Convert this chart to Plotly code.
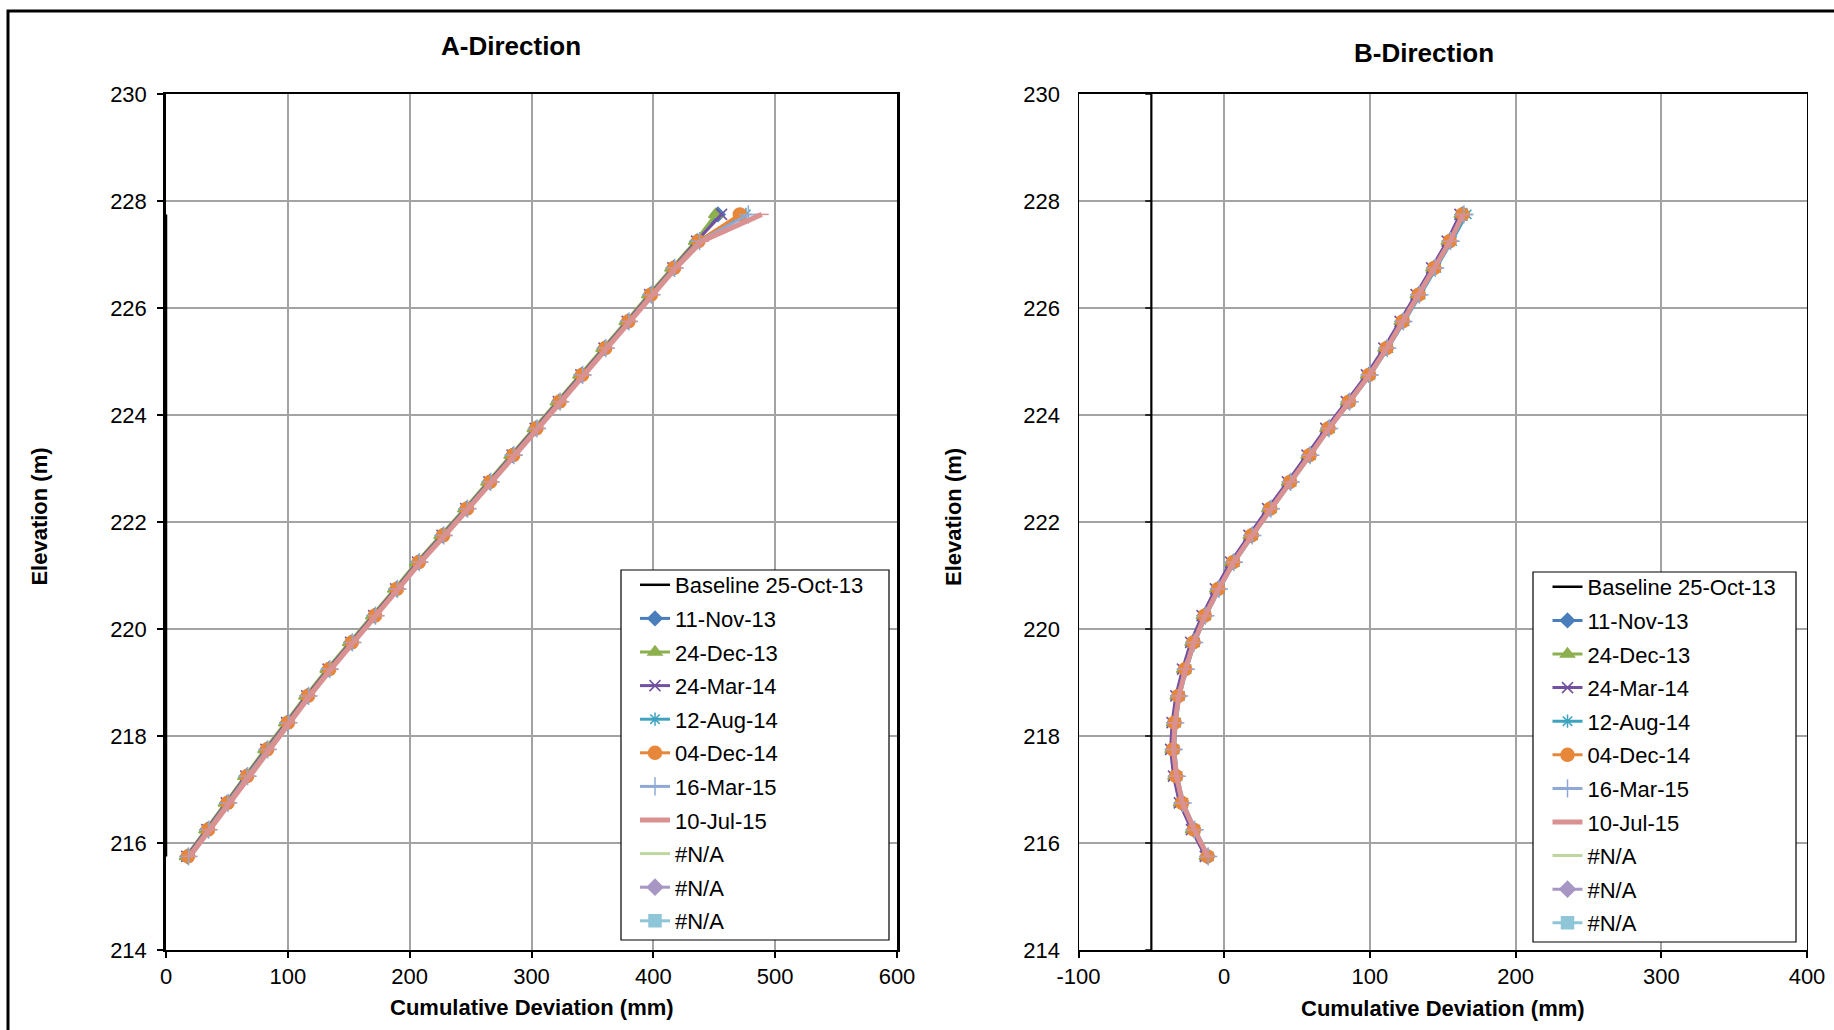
import plotly.graph_objects as go

# ---------------- data ----------------
ELEVATION = [215.75, 216.25, 216.75, 217.25, 217.75, 218.25, 218.75, 219.25, 219.75,
             220.25, 220.75, 221.25, 221.75, 222.25, 222.75, 223.25, 223.75, 224.25,
             224.75, 225.25, 225.75, 226.25, 226.75, 227.25, 227.75]

SERIES_NAMES = ["Baseline 25-Oct-13", "11-Nov-13", "24-Dec-13", "24-Mar-14", "12-Aug-14",
                "04-Dec-14", "16-Mar-15", "10-Jul-15", "#N/A", "#N/A", "#N/A"]

A_BASELINE = [0.0] * 25
A_11NOV13 = [17.5, 33.8, 50.0, 66.0, 82.6, 99.5, 116.0, 133.5, 152.0, 171.0, 189.0, 207.0, 227.0,
             246.5, 265.5, 284.5, 303.5, 322.5, 341.0, 360.0, 379.0, 397.5, 416.5, 436.0, 453.0]
A_24DEC13 = [16.5, 32.5, 48.5, 64.5, 81.0, 98.0, 114.5, 132.0, 150.5, 169.5, 187.5, 205.5, 225.5,
             245.0, 264.0, 283.0, 302.0, 321.0, 339.5, 358.5, 377.5, 396.0, 415.0, 434.5, 451.0]
A_24MAR14 = [17.0, 33.5, 49.5, 65.5, 82.0, 99.0, 115.5, 133.0, 151.5, 170.5, 188.5, 206.5, 226.5,
             246.0, 265.0, 284.0, 303.0, 322.0, 340.5, 359.5, 378.5, 397.0, 416.0, 435.5, 456.0]
A_12AUG14 = [18.0, 34.0, 50.5, 66.5, 83.0, 100.0, 116.5, 134.0, 152.5, 171.5, 189.5, 207.5, 227.5,
             247.0, 266.0, 285.0, 304.0, 323.0, 341.5, 360.5, 379.5, 398.0, 417.0, 437.0, 476.0]
A_04DEC14 = [18.0, 34.5, 50.5, 66.5, 83.0, 100.0, 116.5, 134.0, 152.5, 171.5, 189.5, 207.5, 227.5,
             247.0, 266.0, 285.0, 304.0, 323.0, 341.5, 360.5, 379.5, 398.0, 417.0, 437.0, 471.0]
A_16MAR15 = [18.5, 35.0, 51.0, 67.0, 83.5, 100.5, 117.0, 134.5, 153.0, 172.0, 190.0, 208.0, 228.0,
             247.5, 266.5, 285.5, 304.5, 323.5, 342.0, 361.0, 380.0, 398.5, 417.5, 438.0, 478.0]
A_10JUL15 = [19.5, 36.0, 52.0, 68.0, 84.5, 101.5, 118.0, 135.5, 154.0, 173.0, 191.0, 209.0, 229.0,
             248.5, 267.5, 286.5, 305.5, 324.5, 343.0, 362.0, 381.0, 399.5, 418.5, 440.0, 489.0]

B_BASELINE = [None]
B_11NOV13 = [-11.7, -21.0, -29.2, -33.2, -35.3, -34.3, -31.6, -27.0, -21.3, -13.6, -4.3, 6.0, 18.6,
             31.4, 45.0, 58.4, 71.3, 85.4, 99.2, 111.2, 122.3, 133.3, 144.0, 154.6, 163.4]
B_24DEC13 = [-12.5, -22.0, -30.2, -34.0, -36.0, -35.0, -32.5, -28.0, -22.3, -14.5, -5.3, 5.0, 17.6,
             30.4, 44.0, 57.4, 70.3, 84.4, 98.2, 110.2, 121.3, 132.3, 143.0, 153.6, 162.4]
B_24MAR14 = [-13.0, -22.5, -30.8, -34.8, -36.8, -35.8, -33.2, -28.6, -23.0, -15.2, -6.0, 4.4, 17.0,
             29.8, 43.4, 56.8, 69.7, 83.8, 97.6, 109.6, 120.7, 131.7, 142.4, 153.0, 161.8]
B_12AUG14 = [-10.5, -19.8, -28.0, -32.0, -34.0, -33.0, -30.4, -25.8, -20.0, -12.4, -3.0, 7.3, 19.9,
             32.7, 46.3, 59.7, 72.6, 86.7, 100.5, 112.6, 123.8, 134.8, 145.6, 156.4, 166.5]
B_04DEC14 = [-11.5, -20.8, -29.0, -33.0, -35.1, -34.1, -31.4, -26.8, -21.1, -13.4, -4.1, 6.2, 18.8,
             31.6, 45.2, 58.6, 71.5, 85.6, 99.4, 111.4, 122.5, 133.5, 144.2, 154.8, 163.6]
B_16MAR15 = [-11.0, -20.3, -28.5, -32.5, -34.6, -33.6, -30.9, -26.3, -20.6, -12.9, -3.6, 6.7, 19.3,
             32.1, 45.7, 59.1, 72.0, 86.1, 99.9, 111.9, 123.0, 134.0, 144.8, 155.4, 164.5]
B_10JUL15 = [-11.2, -20.5, -28.7, -32.7, -34.8, -33.8, -31.1, -26.5, -20.8, -13.1, -3.8, 6.5, 19.1,
             31.9, 45.5, 58.9, 71.8, 85.9, 99.7, 111.7, 122.8, 133.8, 144.5, 155.1, 164.0]

NA_SERIES = [None]   # "#N/A" series hold no plottable values

Y_TICKS = [214, 216, 218, 220, 222, 224, 226, 228, 230]
A_X_TICKS = [0, 100, 200, 300, 400, 500, 600]
A_X_TICK_TEXT = ["0", "100", "200", "300", "400", "500", "600"]
B_X_TICKS = [-100, 0, 100, 200, 300, 400]
B_X_TICK_TEXT = ["-100", "0", "100", "200", "300", "400"]
B_AXIS_CROSS = -50

# ---------------- styles ----------------
STYLES = [
    dict(color="#000000", symbol=None, size=0, width=2.5),
    dict(color="#4A7EBB", symbol="diamond", size=11, width=3),
    dict(color="#8CB04E", symbol="triangle-up", size=12, width=3),
    dict(color="#7151A0", symbol="x-thin-open", size=11, width=3),
    dict(color="#3FA3BF", symbol="asterisk-open", size=11, width=3),
    dict(color="#E6873A", symbol="circle", size=13, width=3),
    dict(color="#8FA9D6", symbol="cross-thin-open", size=13, width=3),
    dict(color="#D99291", symbol="line-ew-open", size=10, width=5),
    dict(color="#BFD69E", symbol=None, size=0, width=3),
    dict(color="#A896C4", symbol="diamond", size=12, width=3),
    dict(color="#8EC6D8", symbol="square", size=12, width=3),
]

A_DATA = [A_BASELINE, A_11NOV13, A_24DEC13, A_24MAR14, A_12AUG14, A_04DEC14, A_16MAR15,
          A_10JUL15, NA_SERIES, NA_SERIES, NA_SERIES]
B_DATA = [B_BASELINE, B_11NOV13, B_24DEC13, B_24MAR14, B_12AUG14, B_04DEC14, B_16MAR15,
          B_10JUL15, NA_SERIES, NA_SERIES, NA_SERIES]

FONT = "Liberation Sans, Arial, sans-serif"
W, H = 1834, 1030

fig = go.Figure()


def add_traces(data, xa, ya, legend, prefix):
    for i, (name, xs, st) in enumerate(zip(SERIES_NAMES, data, STYLES)):
        ys = ELEVATION[:len(xs)]
        mode = "lines+markers" if st["symbol"] else "lines"
        marker = dict(symbol=st["symbol"], size=st["size"], color=st["color"],
                      line=dict(color=st["color"], width=1.5)) if st["symbol"] else None
        fig.add_trace(go.Scatter(
            x=xs, y=ys, name=name, mode=mode, xaxis=xa, yaxis=ya, legend=legend,
            legendgroup=f"{prefix}{i}",
            line=dict(color=st["color"], width=st["width"]),
            marker=marker, showlegend=True))


add_traces(A_DATA, "x", "y", "legend", "A")
add_traces(B_DATA, "x2", "y2", "legend2", "B")

axis_common = dict(showgrid=True, gridcolor="#A3A3A3", gridwidth=2, zeroline=False,
                   showline=True, linecolor="#000000", mirror=True,
                   tickfont=dict(family=FONT, size=22, color="#000000"),
                   automargin=False)

ydom = [80 / H, 1 - 94 / H]
legend_common = dict(xanchor="left", yanchor="top", bgcolor="rgba(0,0,0,0)",
                     borderwidth=0, font=dict(family=FONT, size=22, color="#000"),
                     tracegroupgap=2, itemclick=False)
fig.update_layout(
    width=W, height=H,
    margin=dict(l=0, r=0, t=0, b=0),
    paper_bgcolor="white", plot_bgcolor="white",
    font=dict(family=FONT, size=22, color="#000000"),
    showlegend=True,
    xaxis=dict(domain=[166 / W, 897 / W], range=[0, 600], tickvals=A_X_TICKS,
               ticktext=A_X_TICK_TEXT,
               ticks="outside", ticklen=6, tickwidth=1.5, tickcolor="#000", linewidth=2,
               anchor="y", **axis_common),
    yaxis=dict(domain=ydom, range=[214, 230], tickvals=Y_TICKS, ticks="outside", ticklen=6,
               tickwidth=1.5, tickcolor="#000", linewidth=2.5, anchor="x",
               ticklabelstandoff=6, **axis_common),
    xaxis2=dict(domain=[1078.5 / W, 1807 / W], range=[-100, 400], tickvals=B_X_TICKS,
                ticktext=B_X_TICK_TEXT,
                ticks="outside", ticklen=6, tickwidth=1.5, tickcolor="#000", linewidth=1.8,
                anchor="y2", **axis_common),
    yaxis2=dict(domain=ydom, range=[214, 230], tickvals=Y_TICKS, ticks="", linewidth=1.2,
                anchor="x2", ticklabelstandoff=13, **axis_common),
    legend=dict(x=635 / W, y=1 - 564 / H, **legend_common),
    legend2=dict(x=1547.5 / W, y=1 - 566 / H, **legend_common),
)

shapes = []
# legend boxes (white, bordered)
shapes.append(dict(type="rect", xref="paper", yref="paper", x0=621 / W, x1=889 / W,
                   y0=1 - 940 / H, y1=1 - 570 / H, fillcolor="white",
                   line=dict(color="#000", width=1.2), layer="above"))
shapes.append(dict(type="rect", xref="paper", yref="paper", x0=1533 / W, x1=1796 / W,
                   y0=1 - 942 / H, y1=1 - 572 / H, fillcolor="white",
                   line=dict(color="#000", width=1.2), layer="above"))
# B vertical axis crossing line
shapes.append(dict(type="line", xref="x2", yref="y2 domain", x0=B_AXIS_CROSS, x1=B_AXIS_CROSS,
                   y0=0, y1=1, line=dict(color="#000", width=2.2), layer="above"))
for t in Y_TICKS:
    shapes.append(dict(type="line", xref="x2", yref="y2", x0=B_AXIS_CROSS - 4.2, x1=B_AXIS_CROSS,
                       y0=t, y1=t, line=dict(color="#000", width=1.5), layer="above"))
# outer frame
shapes.append(dict(type="rect", xref="paper", yref="paper", x0=8 / W, x1=1.02, y0=-0.02,
                   y1=1 - 11 / H, line=dict(color="#000", width=3), layer="above"))
fig.update_layout(shapes=shapes)

annotations = [
    dict(text="<b>A-Direction</b>", x=511 / W, y=1 - 46 / H, font=dict(size=26)),
    dict(text="<b>B-Direction</b>", x=1423.5 / W, y=1 - 53 / H, font=dict(size=26)),
    dict(text="<b>Cumulative Deviation (mm)</b>", x=531.5 / W, y=1 - 1007 / H, font=dict(size=22)),
    dict(text="<b>Cumulative Deviation (mm)</b>", x=1442.8 / W, y=1 - 1008 / H, font=dict(size=22)),
    dict(text="<b>Elevation (m)</b>", x=38.6 / W, y=1 - 517 / H, textangle=-90, font=dict(size=22)),
    dict(text="<b>Elevation (m)</b>", x=953 / W, y=1 - 517 / H, textangle=-90, font=dict(size=22)),
]
for a in annotations:
    a.update(xref="paper", yref="paper", showarrow=False, xanchor="center", yanchor="middle")
    a["font"].update(family=FONT, color="#000")
fig.update_layout(annotations=annotations)

fig.write_html("out.html", config={"displayModeBar": False},
               post_script="document.body.style.margin='0px';document.body.style.overflow='hidden';")
